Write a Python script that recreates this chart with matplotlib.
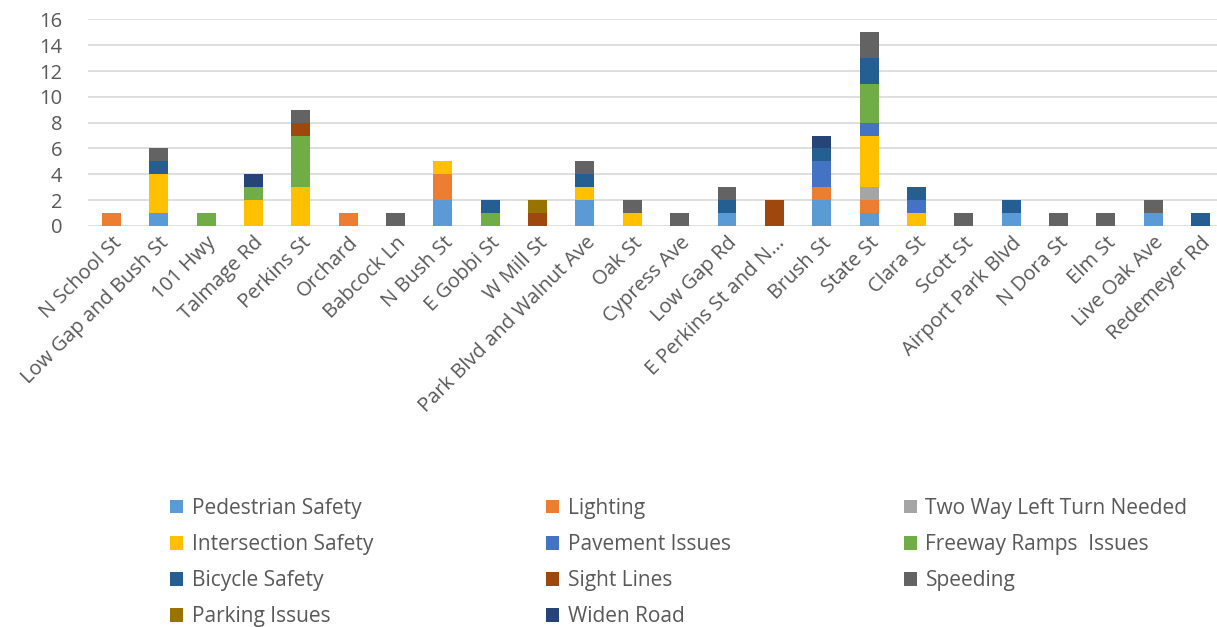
import numpy as np
import matplotlib
matplotlib.use('Agg')
import matplotlib.pyplot as plt

plt.rcParams['font.family'] = ['Open Sans', 'DejaVu Sans']

streets = ["N School St", "Low Gap and Bush St", "101 Hwy", "Talmage Rd", "Perkins St",
           "Orchard", "Babcock Ln", "N Bush St", "E Gobbi St", "W Mill St",
           "Park Blvd and Walnut Ave", "Oak St", "Cypress Ave", "Low Gap Rd",
           "E Perkins St and N...", "Brush St", "State St", "Clara St", "Scott St",
           "Airport Park Blvd", "N Dora St", "Elm St", "Live Oak Ave", "Redemeyer Rd"]

pedestrian   = [0, 1, 0, 0, 0, 0, 0, 2, 0, 0, 2, 0, 0, 1, 0, 2, 1, 0, 0, 1, 0, 0, 1, 0]
lighting     = [1, 0, 0, 0, 0, 1, 0, 2, 0, 0, 0, 0, 0, 0, 0, 1, 1, 0, 0, 0, 0, 0, 0, 0]
two_way      = [0, 0, 0, 0, 0, 0, 0, 0, 0, 0, 0, 0, 0, 0, 0, 0, 1, 0, 0, 0, 0, 0, 0, 0]
intersection = [0, 3, 0, 2, 3, 0, 0, 1, 0, 0, 1, 1, 0, 0, 0, 0, 4, 1, 0, 0, 0, 0, 0, 0]
pavement     = [0, 0, 0, 0, 0, 0, 0, 0, 0, 0, 0, 0, 0, 0, 0, 2, 1, 1, 0, 0, 0, 0, 0, 0]
freeway      = [0, 0, 1, 1, 4, 0, 0, 0, 1, 0, 0, 0, 0, 0, 0, 0, 3, 0, 0, 0, 0, 0, 0, 0]
bicycle      = [0, 1, 0, 0, 0, 0, 0, 0, 1, 0, 1, 0, 0, 1, 0, 1, 2, 1, 0, 1, 0, 0, 0, 1]
sight        = [0, 0, 0, 0, 1, 0, 0, 0, 0, 1, 0, 0, 0, 0, 2, 0, 0, 0, 0, 0, 0, 0, 0, 0]
speeding     = [0, 1, 0, 0, 1, 0, 1, 0, 0, 0, 1, 1, 1, 1, 0, 0, 2, 0, 1, 0, 1, 1, 1, 0]
parking      = [0, 0, 0, 0, 0, 0, 0, 0, 0, 1, 0, 0, 0, 0, 0, 0, 0, 0, 0, 0, 0, 0, 0, 0]
widen        = [0, 0, 0, 1, 0, 0, 0, 0, 0, 0, 0, 0, 0, 0, 0, 1, 0, 0, 0, 0, 0, 0, 0, 0]

series = [
    ("Pedestrian Safety", pedestrian, "#5B9BD5"),
    ("Lighting", lighting, "#ED7D31"),
    ("Two Way Left Turn Needed", two_way, "#A5A5A5"),
    ("Intersection Safety", intersection, "#FFC000"),
    ("Pavement Issues", pavement, "#4472C4"),
    ("Freeway Ramps  Issues", freeway, "#70AD47"),
    ("Bicycle Safety", bicycle, "#255E91"),
    ("Sight Lines", sight, "#9E480E"),
    ("Speeding", speeding, "#636363"),
    ("Parking Issues", parking, "#997300"),
    ("Widen Road", widen, "#264478"),
]

fig = plt.figure(figsize=(12.17, 6.27), dpi=100)
ax = fig.add_axes([0.072, 0.6396, 0.934, 0.3295])

x = np.arange(len(streets))
bottom = np.zeros(len(streets))
handles = []
for name, vals, col in series:
    v = np.array(vals, dtype=float)
    b = ax.bar(x, v, 0.4, bottom=bottom, color=col, label=name, zorder=3)
    handles.append(b)
    bottom += v

ax.set_xlim(-0.5, len(streets) - 0.5)
ax.set_ylim(0, 16)
ax.set_yticks(range(0, 17, 2))
ax.yaxis.grid(True, color='#D9D9D9', linewidth=1.2, zorder=0)
for s in ax.spines.values():
    s.set_visible(False)
ax.tick_params(length=0, labelsize=14.5, labelcolor='#595959')
ax.tick_params(axis='y', pad=18)
ax.set_xticks(x)
ax.set_xticklabels(streets, rotation=45, ha='right', rotation_mode='anchor')
ax.tick_params(axis='x', pad=5)

# excel fills the legend row by row
order = [0, 3, 6, 9, 1, 4, 7, 10, 2, 5, 8]
leg = fig.legend([handles[i] for i in order], [series[i][0] for i in order],
                 ncol=3, loc='upper left', bbox_to_anchor=(0.124, 0.236),
                 frameon=False, fontsize=15, labelcolor='#595959',
                 handlelength=0.65, handleheight=0.65, handletextpad=0.4,
                 columnspacing=8.3, labelspacing=0.73)

fig.savefig('out.png', dpi=100)
